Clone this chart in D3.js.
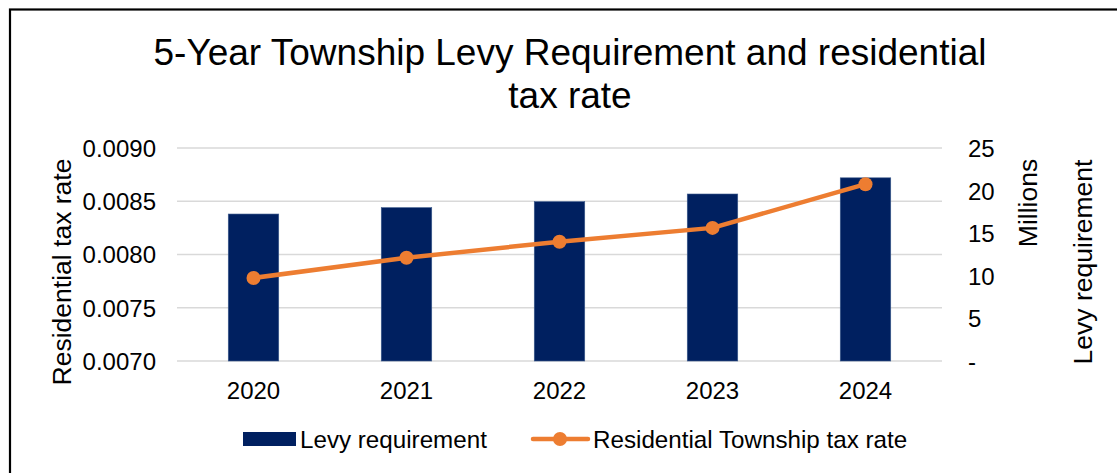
<!DOCTYPE html>
<html>
<head>
<meta charset="utf-8">
<script src="https://cdn.jsdelivr.net/npm/d3@7"></script>
<style>
  html, body { margin: 0; padding: 0; background: #fff; }
  svg { display: block; font-family: "Liberation Sans", Arial, sans-serif; }
</style>
</head>
<body>
<svg id="chart" width="1117" height="473"></svg>
<script>
// Fiscal years shown on the category axis
const years = ["2020", "2021", "2022", "2023", "2024"];
// Township levy requirement, in millions of dollars (right axis)
const levyMillions = [17.25, 18.0, 18.7, 19.6, 21.5];
// Residential township tax rate (left axis)
const taxRate = [0.00778, 0.00797, 0.00812, 0.00825, 0.00866];
// Axis tick values
const rateTicks = [0.0070, 0.0075, 0.0080, 0.0085, 0.0090];
const levyTicks = [0, 5, 10, 15, 20, 25];

const svg = d3.select("#chart");
const W = 1117, H = 473;
const plot = { left: 177, right: 942, top: 148, bottom: 361 };
const FONT = "Liberation Sans, Arial, sans-serif";

// Outer chart frame
svg.append("rect")
  .attr("x", 10).attr("y", 9.5)
  .attr("width", W + 20).attr("height", H + 20)
  .attr("fill", "#fff").attr("stroke", "#000").attr("stroke-width", 2.2);

// Title
const title = svg.append("text")
  .attr("text-anchor", "middle")
  .attr("font-size", 37)
  .attr("fill", "#000");
title.append("tspan").attr("x", 570).attr("y", 65)
  .text("5-Year Township Levy Requirement and residential");
title.append("tspan").attr("x", 570).attr("y", 108)
  .text("tax rate");

// Scales
const x = d3.scaleBand().domain(years).range([plot.left, plot.right]).paddingInner(0.67).paddingOuter(0.335);
const xc = d3.scaleBand().domain(years).range([plot.left, plot.right]);
const yRate = d3.scaleLinear().domain([0.0070, 0.0090]).range([plot.bottom, plot.top]);
const yLevy = d3.scaleLinear().domain([0, 25]).range([plot.bottom, plot.top]);

// Horizontal gridlines
svg.append("g").selectAll("line").data(rateTicks).join("line")
  .attr("x1", plot.left).attr("x2", plot.right)
  .attr("y1", d => yRate(d)).attr("y2", d => yRate(d))
  .attr("stroke", "#d9d9d9").attr("stroke-width", 1.6);

// Left axis (tax rate)
const leftAxis = svg.append("g")
  .attr("transform", `translate(${plot.left - 21},0)`)
  .call(d3.axisLeft(yRate).tickValues(rateTicks).tickFormat(d3.format(".4f")).tickSize(0).tickPadding(0));
leftAxis.select(".domain").remove();
leftAxis.selectAll("text").attr("font-size", 24).attr("fill", "#000")
  .attr("font-family", FONT).attr("dy", "0.35em");

// Right axis (levy, millions)
const rightAxis = svg.append("g")
  .attr("transform", `translate(${plot.right + 26},0)`)
  .call(d3.axisRight(yLevy).tickValues(levyTicks).tickFormat(d => d === 0 ? "-" : d3.format("d")(d)).tickSize(0).tickPadding(0));
rightAxis.select(".domain").remove();
rightAxis.selectAll("text").attr("font-size", 24).attr("fill", "#000")
  .attr("font-family", FONT).attr("dy", "0.35em");

// Category axis labels
const bottomAxis = svg.append("g")
  .attr("transform", `translate(0,${plot.bottom})`)
  .call(d3.axisBottom(xc).tickSize(0).tickPadding(21));
bottomAxis.select(".domain").remove();
bottomAxis.selectAll("text").attr("font-size", 24).attr("fill", "#000")
  .attr("font-family", FONT);

// Levy bars
svg.append("g").selectAll("rect").data(years).join("rect")
  .attr("x", d => x(d))
  .attr("width", x.bandwidth())
  .attr("y", (d, i) => yLevy(levyMillions[i]))
  .attr("height", (d, i) => yLevy(0) - yLevy(levyMillions[i]))
  .attr("fill", "#002060")
  .attr("stroke", "#3c5a8c").attr("stroke-width", 0.6);

// Tax-rate line with markers
const linePts = years.map((d, i) => [xc(d) + xc.bandwidth() / 2, yRate(taxRate[i])]);
svg.append("path")
  .attr("d", d3.line()(linePts))
  .attr("fill", "none").attr("stroke", "#ED7D31").attr("stroke-width", 4.5)
  .attr("stroke-linejoin", "round").attr("stroke-linecap", "round");
svg.append("g").selectAll("circle").data(linePts).join("circle")
  .attr("cx", d => d[0]).attr("cy", d => d[1]).attr("r", 7)
  .attr("fill", "#ED7D31");

// Axis titles
svg.append("text")
  .attr("transform", "translate(71,272) rotate(-90)")
  .attr("text-anchor", "middle").attr("font-size", 26.5).attr("fill", "#000")
  .text("Residential tax rate");
svg.append("text")
  .attr("transform", "translate(1037,203) rotate(-90)")
  .attr("text-anchor", "middle").attr("font-size", 26.5).attr("fill", "#000")
  .text("Millions");
svg.append("text")
  .attr("transform", "translate(1092,262) rotate(-90)")
  .attr("text-anchor", "middle").attr("font-size", 26.5).attr("fill", "#000")
  .text("Levy requirement");

// Legend
const legend = svg.append("g").attr("font-size", 24.2).attr("fill", "#000");
legend.append("rect").attr("x", 243).attr("y", 432).attr("width", 53).attr("height", 14).attr("fill", "#002060");
legend.append("text").attr("x", 300).attr("y", 448).text("Levy requirement");
legend.append("line").attr("x1", 533).attr("x2", 588).attr("y1", 439).attr("y2", 439)
  .attr("stroke", "#ED7D31").attr("stroke-width", 4.5).attr("stroke-linecap", "round");
legend.append("circle").attr("cx", 560).attr("cy", 439).attr("r", 7).attr("fill", "#ED7D31");
legend.append("text").attr("x", 593).attr("y", 448).text("Residential Township tax rate");
</script>
</body>
</html>
